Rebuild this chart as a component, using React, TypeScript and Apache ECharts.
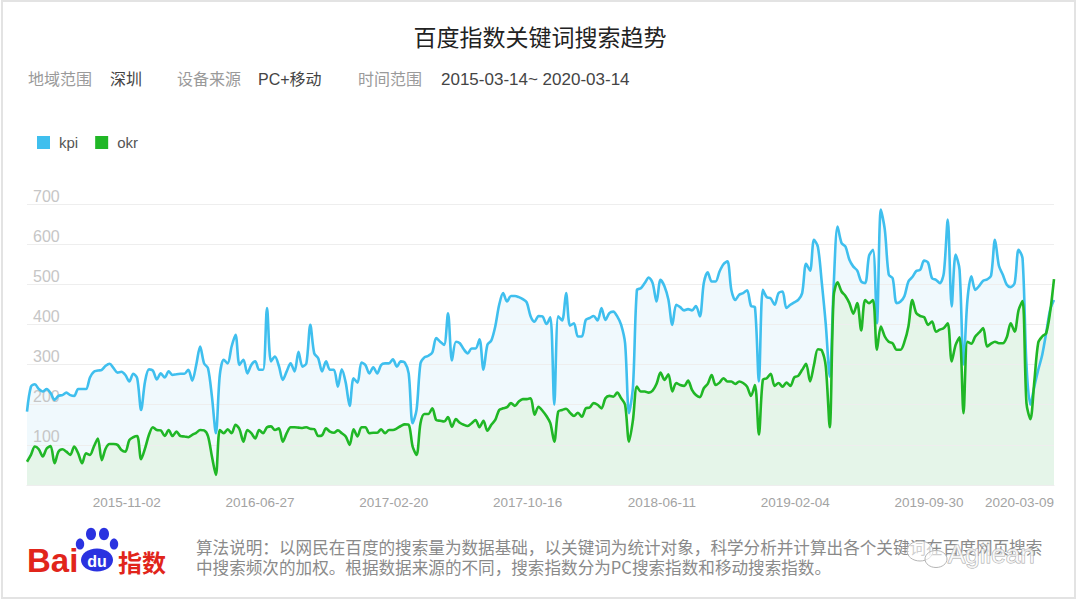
import React, { useEffect, useRef } from 'react';
import * as echarts from 'echarts';

const FIRST_WEEK = '2015-03-09';
const TICK_LABELS = ['2015-11-02', '2016-06-27', '2017-02-20', '2017-10-16', '2018-06-11', '2019-02-04', '2019-09-30', '2020-03-09'];
const SERIES_NAMES = ['kpi', 'okr'];

const KPI = [
  183, 245, 251, 239, 233, 239, 229, 212, 222, 224,
  230, 224, 222, 239, 239, 239, 268, 282, 285, 287,
  297, 302, 291, 280, 282, 274, 258, 277, 266, 187,
  258, 288, 285, 263, 278, 268, 283, 274, 276, 277,
  277, 287, 260, 299, 345, 303, 291, 220, 129, 274,
  312, 303, 345, 374, 299, 312, 278, 299, 308, 287,
  287, 441, 308, 320, 297, 262, 283, 303, 283, 332,
  295, 303, 399, 328, 316, 283, 308, 287, 287, 245,
  288, 255, 197, 266, 255, 305, 299, 278, 293, 278,
  299, 303, 303, 313, 295, 308, 305, 278, 154, 187,
  303, 318, 322, 330, 366, 357, 349, 428, 310, 357,
  353, 338, 328, 340, 340, 363, 287, 349, 360, 395,
  449, 478, 457, 471, 471, 468, 463, 455, 420, 407,
  421, 420, 401, 418, 200, 420, 410, 478, 397, 403,
  370, 370, 411, 416, 421, 410, 441, 411, 428, 432,
  420, 399, 353, 179, 245, 486, 490, 503, 517, 503,
  457, 511, 495, 462, 399, 449, 443, 435, 438, 435,
  446, 420, 503, 530, 507, 507, 532, 550, 557, 486,
  461, 474, 478, 485, 446, 443, 258, 486, 468, 465,
  449, 478, 482, 441, 449, 455, 461, 478, 551, 534,
  611, 593, 503, 400, 270, 495, 644, 603, 594, 561,
  544, 534, 507, 503, 571, 586, 403, 686, 636, 524,
  515, 453, 457, 471, 507, 518, 533, 536, 559, 554,
  515, 511, 503, 528, 661, 445, 574, 536, 300, 461,
  520, 486, 496, 509, 512, 521, 611, 546, 524, 499,
  493, 503, 586, 565, 300, 200, 245, 287, 324, 378,
  436, 461,
];

const OKR = [
  58, 75, 96, 89, 71, 91, 97, 54, 83, 89,
  83, 75, 96, 79, 54, 79, 75, 96, 116, 62,
  91, 102, 102, 100, 87, 83, 112, 119, 122, 64,
  91, 125, 144, 137, 136, 122, 137, 122, 133, 122,
  121, 119, 125, 130, 137, 136, 122, 71, 25, 137,
  129, 139, 129, 150, 139, 108, 137, 129, 116, 137,
  129, 144, 146, 137, 141, 108, 129, 144, 144, 143,
  142, 144, 140, 139, 122, 124, 141, 133, 130, 136,
  129, 121, 100, 139, 121, 144, 144, 129, 130, 130,
  139, 129, 137, 137, 141, 147, 151, 150, 96, 75,
  154, 177, 177, 191, 162, 160, 158, 169, 145, 164,
  155, 150, 147, 154, 162, 144, 160, 135, 150, 162,
  187, 191, 194, 204, 197, 208, 214, 214, 216, 175,
  195, 185, 172, 154, 108, 183, 187, 190, 180, 172,
  180, 170, 191, 193, 204, 200, 191, 216, 222, 220,
  230, 216, 200, 108, 162, 245, 233, 233, 230, 235,
  252, 280, 262, 276, 233, 254, 249, 247, 260, 237,
  224, 219, 241, 252, 274, 249, 255, 266, 258, 258,
  252, 258, 254, 245, 222, 249, 126, 262, 266, 277,
  247, 254, 245, 255, 247, 268, 272, 287, 302, 258,
  299, 338, 335, 295, 144, 470, 505, 482, 471, 453,
  427, 453, 385, 461, 453, 461, 337, 395, 370, 357,
  353, 337, 337, 357, 395, 461, 428, 421, 418, 399,
  407, 382, 387, 391, 403, 308, 349, 368, 179, 357,
  352, 370, 380, 391, 345, 352, 357, 353, 353, 368,
  403, 382, 436, 458, 204, 164, 258, 355, 370, 378,
  430, 513,
];

const INFO_LABELS = ['地域范围', '设备来源', '时间范围'];
const INFO_VALUES = ['深圳', 'PC+移动', '2015-03-14~ 2020-03-14'];
const NOTE_LINES = [
  '算法说明：以网民在百度的搜索量为数据基础，以关键词为统计对象，科学分析并计算出各个关键词在百度网页搜索',
  '中搜索频次的加权。根据数据来源的不同，搜索指数分为PC搜索指数和移动搜索指数。',
];

const FONT = '"Helvetica Neue", Helvetica, "Liberation Sans", Arial, "Noto Sans CJK SC", sans-serif';
const KPI_COLOR = '#3fbfee';
const OKR_COLOR = '#20b726';
const RED = '#e1251b';
const BLUE = '#2a32e0';

function buildWeeks(): string[] {
  const out: string[] = [];
  const start = new Date(FIRST_WEEK + 'T00:00:00Z').getTime();
  for (let i = 0; i < KPI.length; i++) {
    const d = new Date(start + i * 7 * 86400000);
    out.push(d.toISOString().slice(0, 10));
  }
  return out;
}

function txt(x: number, y: number, text: string, size: number, fill: string, extra: any = {}) {
  return {
    type: 'text',
    x,
    y,
    silent: true,
    style: {
      text,
      fill,
      fontSize: size,
      fontFamily: FONT,
      textVerticalAlign: 'middle',
      textAlign: 'left',
      ...extra,
    },
  };
}

export default function App() {
  const ref = useRef<HTMLDivElement>(null);
  useEffect(() => {
    const chart = echarts.init(ref.current!, null, { renderer: 'svg' });
    const weeks = buildWeeks();
    const infoX = [[28, 110], [177, 258], [358, 441]];
    const infoSize = [16, 16, 17];
    const graphics: any[] = [
      { type: 'rect', silent: true, z: -10, shape: { x: 2, y: 1, width: 1073, height: 597 }, style: { fill: 'none', stroke: '#e3e3e3', lineWidth: 2 } },
      txt(540, 38, '百度指数关键词搜索趋势', 23, '#222', { textAlign: 'center' }),
    ];
    INFO_LABELS.forEach((l, i) => {
      graphics.push(txt(infoX[i][0], 79, l, 16, '#9a9a9a'));
      graphics.push(txt(infoX[i][1], 79, INFO_VALUES[i], infoSize[i], '#444'));
    });
    graphics.push(txt(1043, 464, '@百度指数', 17, '#cfcfcf', { textAlign: 'right' }));
    // Baidu logo
    graphics.push(txt(27, 560, 'Bai', 33, RED, { fontWeight: 'bold', fontFamily: 'Arial, "Liberation Sans", sans-serif' }));
    graphics.push({ type: 'ellipse', silent: true, shape: { cx: 80, cy: 544, rx: 4.2, ry: 5.6 }, style: { fill: BLUE } });
    graphics.push({ type: 'ellipse', silent: true, shape: { cx: 91, cy: 534, rx: 5, ry: 6.2 }, style: { fill: BLUE } });
    graphics.push({ type: 'ellipse', silent: true, shape: { cx: 104, cy: 534, rx: 5, ry: 6.2 }, style: { fill: BLUE } });
    graphics.push({ type: 'ellipse', silent: true, shape: { cx: 114, cy: 544, rx: 4.2, ry: 5.6 }, style: { fill: BLUE } });
    graphics.push({ type: 'ellipse', silent: true, shape: { cx: 97, cy: 560, rx: 16, ry: 11.5 }, style: { fill: BLUE } });
    graphics.push(txt(97, 561, 'du', 16, '#fff', { textAlign: 'center', fontWeight: 'bold', fontFamily: 'Arial, "Liberation Sans", sans-serif' }));
    graphics.push(txt(118, 561, '指数', 24, RED, { fontWeight: 'bold', fontFamily: '"Noto Sans CJK SC", sans-serif' }));
    graphics.push(txt(196, 557, NOTE_LINES.join('\n'), 16.6, '#8a8a8a', { fontFamily: '"Noto Sans CJK SC", sans-serif', lineHeight: 19.5 }));
    // WeChat-style watermark
    graphics.push({ type: 'ellipse', silent: true, shape: { cx: 920, cy: 551, rx: 13, ry: 10 }, style: { fill: 'rgba(255,255,255,0.6)', stroke: '#b5b5b5', lineWidth: 1 } });
    graphics.push({ type: 'ellipse', silent: true, shape: { cx: 936, cy: 559, rx: 11, ry: 8.5 }, style: { fill: 'rgba(255,255,255,0.6)', stroke: '#b5b5b5', lineWidth: 1 } });
    graphics.push(txt(948, 554, 'Agilean', 26, 'rgba(255,255,255,0.75)', { stroke: '#a9a9a9', lineWidth: 1, fontFamily: '"Liberation Sans", Arial, sans-serif' }));

    const lineBase = { type: 'line', smooth: 0.3, symbol: 'none', showSymbol: false, silent: true };
    chart.setOption({
      animation: false,
      backgroundColor: '#fff',
      textStyle: { fontFamily: FONT },
      legend: {
        left: 32,
        top: 130,
        icon: 'rect',
        itemWidth: 13,
        itemHeight: 13,
        itemGap: 17,
        data: SERIES_NAMES,
        textStyle: { fontSize: 15, color: '#555', padding: [0, 0, 0, 4] },
      },
      grid: { left: 27, right: 26, top: 204, bottom: 118 },
      xAxis: {
        type: 'category',
        data: weeks,
        boundaryGap: false,
        axisTick: { show: false },
        axisLine: { show: true, lineStyle: { color: '#ececec' } },
        axisLabel: {
          interval: (_i: number, v: string) => TICK_LABELS.includes(v),
          align: 'right',
          margin: 11,
          color: '#a3a3a3',
          fontSize: 13.5,
        },
        splitLine: { show: false },
      },
      yAxis: {
        type: 'value',
        min: 0,
        max: 700,
        interval: 100,
        z: 2.5,
        axisLine: { show: false },
        axisTick: { show: false },
        axisLabel: {
          inside: true,
          margin: 6,
          verticalAlign: 'bottom',
          color: '#c6c6c6',
          fontSize: 16,
          formatter: (v: number) => (v === 0 ? '' : String(v)),
        },
        splitLine: { lineStyle: { color: '#eeeeee', width: 1 } },
      },
      series: [
        { ...lineBase, name: 'kpi', data: KPI, z: 3, lineStyle: { width: 2.6, color: KPI_COLOR }, itemStyle: { color: KPI_COLOR } },
        { ...lineBase, name: 'okr', data: OKR, z: 4, lineStyle: { width: 2.6, color: OKR_COLOR }, itemStyle: { color: OKR_COLOR } },
        { ...lineBase, name: 'kpi', data: KPI, z: 1, lineStyle: { width: 0, opacity: 0 }, itemStyle: { color: KPI_COLOR }, areaStyle: { color: '#f0f9fd', opacity: 1 } },
        { ...lineBase, name: 'okr', data: OKR, z: 2, lineStyle: { width: 0, opacity: 0 }, itemStyle: { color: OKR_COLOR }, areaStyle: { color: '#e5f5e9', opacity: 1 } },
      ],
      graphic: graphics,
    });
    return () => chart.dispose();
  }, []);
  return (
    <div
      ref={ref}
      style={{ position: 'fixed', left: 0, top: 0, width: 1080, height: 603, background: '#fff' }}
    />
  );
}
